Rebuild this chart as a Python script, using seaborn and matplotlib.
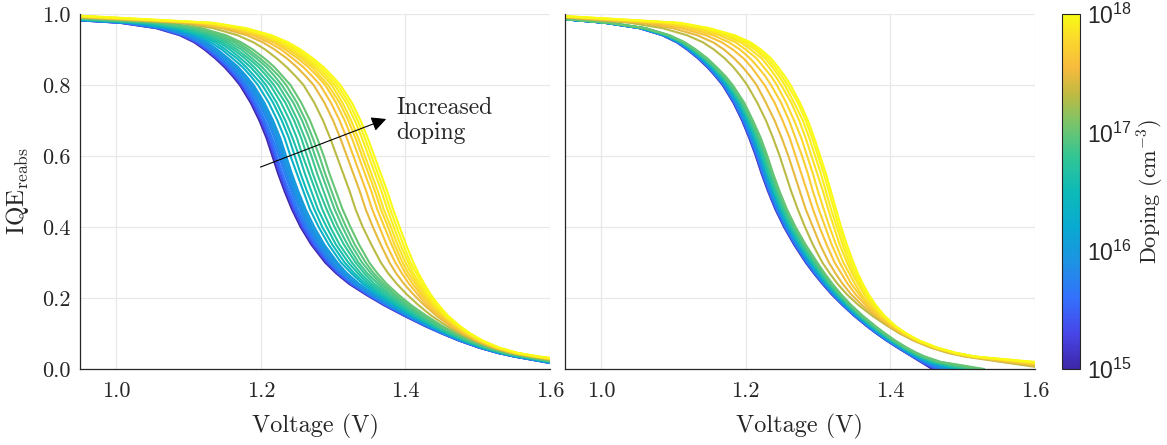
import numpy as np
import pandas as pd
import matplotlib
matplotlib.use("Agg")
import matplotlib.pyplot as plt
import seaborn as sns
from matplotlib.colors import LinearSegmentedColormap, LogNorm
from matplotlib.cm import ScalarMappable

nan = float("nan")

# doping of each curve (cm^-3)
doping = [1e15, 2e15, 3e15, 4e15, 5e15, 6e15, 7e15, 8e15, 9e15,
          1e16, 2e16, 3e16, 4e16, 5e16, 6e16, 7e16, 8e16, 9e16,
          1e17, 2e17, 3e17, 4e17, 5e17, 6e17, 7e17, 8e17, 9e17, 1e18]

# ---- left panel: voltage (V) at which each curve crosses each IQE level ----
levels_left = [0.975, 0.96, 0.94, 0.92, 0.90, 0.875, 0.85, 0.825, 0.80, 0.75, 0.70, 0.65, 0.60, 0.55, 0.50,
               0.45, 0.40, 0.35, 0.30, 0.27, 0.24, 0.21, 0.18, 0.15, 0.12, 0.10, 0.08, 0.06, 0.045, 0.035]
iqe_start_left = [0.982, 0.982, 0.982, 0.983, 0.983, 0.983, 0.983, 0.983, 0.984, 0.984, 0.984, 0.985, 0.985, 0.986,
                  0.986, 0.987, 0.987, 0.988, 0.989, 0.990, 0.991, 0.992, 0.993, 0.993, 0.994, 0.994, 0.995, 0.995]
iqe_end_left = [0.017, 0.017, 0.017, 0.018, 0.018, 0.018, 0.018, 0.018, 0.019, 0.019, 0.020, 0.020, 0.021, 0.021,
                0.022, 0.022, 0.023, 0.023, 0.024, 0.026, 0.027, 0.028, 0.029, 0.029, 0.030, 0.030, 0.031, 0.031]
volt_left = [
    [1.005, 1.055, 1.088, 1.108, 1.122, 1.137, 1.150, 1.161, 1.171, 1.186, 1.198, 1.208, 1.216, 1.224, 1.233, 1.243, 1.255, 1.270, 1.289, 1.304, 1.322, 1.345, 1.370, 1.398, 1.428, 1.450, 1.474, 1.502, 1.528, 1.550],
    [1.007, 1.057, 1.090, 1.110, 1.124, 1.139, 1.152, 1.163, 1.173, 1.188, 1.200, 1.210, 1.218, 1.226, 1.235, 1.245, 1.257, 1.272, 1.291, 1.306, 1.324, 1.346, 1.371, 1.399, 1.429, 1.451, 1.474, 1.502, 1.528, 1.551],
    [1.009, 1.059, 1.092, 1.112, 1.126, 1.141, 1.154, 1.165, 1.175, 1.190, 1.202, 1.212, 1.220, 1.228, 1.237, 1.247, 1.259, 1.274, 1.293, 1.307, 1.325, 1.348, 1.372, 1.400, 1.429, 1.451, 1.475, 1.503, 1.529, 1.551],
    [1.011, 1.061, 1.094, 1.114, 1.128, 1.143, 1.156, 1.167, 1.177, 1.192, 1.204, 1.214, 1.222, 1.230, 1.239, 1.249, 1.261, 1.276, 1.295, 1.309, 1.327, 1.349, 1.373, 1.401, 1.430, 1.452, 1.476, 1.503, 1.529, 1.552],
    [1.013, 1.063, 1.096, 1.116, 1.130, 1.145, 1.158, 1.169, 1.179, 1.194, 1.206, 1.216, 1.225, 1.233, 1.242, 1.251, 1.263, 1.278, 1.296, 1.311, 1.328, 1.350, 1.375, 1.402, 1.431, 1.452, 1.476, 1.504, 1.530, 1.552],
    [1.015, 1.064, 1.098, 1.118, 1.132, 1.147, 1.160, 1.171, 1.181, 1.197, 1.209, 1.219, 1.227, 1.235, 1.244, 1.254, 1.265, 1.280, 1.298, 1.313, 1.330, 1.352, 1.376, 1.403, 1.432, 1.453, 1.477, 1.504, 1.530, 1.553],
    [1.017, 1.066, 1.099, 1.120, 1.134, 1.149, 1.162, 1.173, 1.184, 1.199, 1.211, 1.221, 1.229, 1.237, 1.246, 1.256, 1.267, 1.282, 1.300, 1.314, 1.331, 1.353, 1.377, 1.404, 1.432, 1.454, 1.477, 1.505, 1.531, 1.553],
    [1.019, 1.068, 1.101, 1.122, 1.136, 1.151, 1.164, 1.176, 1.186, 1.201, 1.213, 1.223, 1.231, 1.239, 1.248, 1.258, 1.269, 1.284, 1.302, 1.316, 1.333, 1.355, 1.378, 1.404, 1.433, 1.454, 1.478, 1.505, 1.531, 1.554],
    [1.021, 1.070, 1.103, 1.124, 1.138, 1.153, 1.166, 1.178, 1.188, 1.203, 1.215, 1.225, 1.233, 1.241, 1.250, 1.260, 1.271, 1.286, 1.304, 1.318, 1.335, 1.356, 1.379, 1.405, 1.434, 1.455, 1.478, 1.505, 1.531, 1.554],
    [1.023, 1.072, 1.105, 1.126, 1.140, 1.155, 1.169, 1.180, 1.190, 1.205, 1.217, 1.227, 1.235, 1.243, 1.252, 1.262, 1.274, 1.288, 1.306, 1.319, 1.336, 1.357, 1.380, 1.406, 1.435, 1.455, 1.479, 1.506, 1.532, 1.555],
    [1.028, 1.078, 1.111, 1.131, 1.146, 1.161, 1.175, 1.186, 1.196, 1.211, 1.223, 1.233, 1.241, 1.250, 1.259, 1.268, 1.280, 1.294, 1.311, 1.325, 1.341, 1.361, 1.384, 1.409, 1.437, 1.457, 1.480, 1.507, 1.533, 1.556],
    [1.034, 1.083, 1.116, 1.137, 1.151, 1.167, 1.180, 1.191, 1.202, 1.217, 1.229, 1.239, 1.247, 1.255, 1.264, 1.274, 1.285, 1.299, 1.316, 1.329, 1.345, 1.365, 1.387, 1.411, 1.439, 1.459, 1.481, 1.508, 1.534, 1.558],
    [1.039, 1.088, 1.121, 1.142, 1.157, 1.172, 1.186, 1.197, 1.207, 1.222, 1.234, 1.244, 1.253, 1.261, 1.270, 1.279, 1.291, 1.304, 1.321, 1.334, 1.349, 1.368, 1.390, 1.414, 1.440, 1.460, 1.483, 1.509, 1.535, 1.559],
    [1.044, 1.093, 1.126, 1.147, 1.162, 1.178, 1.191, 1.202, 1.213, 1.228, 1.240, 1.250, 1.258, 1.267, 1.276, 1.285, 1.296, 1.309, 1.326, 1.338, 1.353, 1.372, 1.393, 1.416, 1.442, 1.462, 1.484, 1.510, 1.536, 1.561],
    [1.049, 1.098, 1.131, 1.152, 1.167, 1.183, 1.197, 1.208, 1.218, 1.234, 1.246, 1.256, 1.264, 1.272, 1.281, 1.291, 1.302, 1.315, 1.331, 1.343, 1.357, 1.376, 1.396, 1.419, 1.444, 1.464, 1.485, 1.512, 1.538, 1.562],
    [1.054, 1.103, 1.136, 1.157, 1.173, 1.188, 1.202, 1.213, 1.224, 1.239, 1.251, 1.261, 1.270, 1.278, 1.287, 1.296, 1.307, 1.320, 1.335, 1.347, 1.362, 1.379, 1.399, 1.421, 1.446, 1.465, 1.487, 1.513, 1.539, 1.563],
    [1.060, 1.108, 1.141, 1.163, 1.178, 1.194, 1.208, 1.219, 1.229, 1.245, 1.257, 1.267, 1.275, 1.284, 1.293, 1.302, 1.313, 1.325, 1.340, 1.352, 1.366, 1.383, 1.402, 1.424, 1.448, 1.467, 1.488, 1.514, 1.540, 1.565],
    [1.065, 1.113, 1.146, 1.168, 1.183, 1.199, 1.213, 1.225, 1.235, 1.250, 1.262, 1.272, 1.281, 1.289, 1.298, 1.307, 1.318, 1.330, 1.345, 1.356, 1.370, 1.386, 1.405, 1.426, 1.450, 1.468, 1.489, 1.515, 1.541, 1.566],
    [1.070, 1.118, 1.152, 1.173, 1.189, 1.205, 1.219, 1.230, 1.241, 1.256, 1.268, 1.278, 1.287, 1.295, 1.304, 1.313, 1.324, 1.336, 1.350, 1.361, 1.374, 1.390, 1.408, 1.429, 1.452, 1.470, 1.491, 1.516, 1.542, 1.568],
    [1.087, 1.134, 1.168, 1.190, 1.206, 1.222, 1.236, 1.248, 1.259, 1.274, 1.286, 1.296, 1.305, 1.314, 1.323, 1.331, 1.341, 1.353, 1.366, 1.376, 1.388, 1.402, 1.418, 1.436, 1.458, 1.475, 1.495, 1.520, 1.546, 1.572],
    [1.100, 1.146, 1.181, 1.203, 1.219, 1.236, 1.250, 1.262, 1.273, 1.288, 1.300, 1.310, 1.319, 1.328, 1.337, 1.345, 1.355, 1.366, 1.378, 1.387, 1.398, 1.411, 1.426, 1.443, 1.463, 1.479, 1.498, 1.522, 1.548, 1.576],
    [1.108, 1.154, 1.189, 1.211, 1.228, 1.244, 1.259, 1.271, 1.282, 1.297, 1.309, 1.319, 1.328, 1.337, 1.346, 1.354, 1.364, 1.374, 1.386, 1.395, 1.405, 1.417, 1.430, 1.447, 1.466, 1.482, 1.500, 1.524, 1.550, 1.578],
    [1.115, 1.161, 1.195, 1.218, 1.234, 1.251, 1.266, 1.278, 1.289, 1.304, 1.316, 1.326, 1.335, 1.344, 1.353, 1.361, 1.371, 1.381, 1.392, 1.400, 1.410, 1.421, 1.434, 1.450, 1.469, 1.484, 1.502, 1.526, 1.552, 1.580],
    [1.119, 1.165, 1.200, 1.222, 1.239, 1.256, 1.271, 1.282, 1.293, 1.309, 1.321, 1.331, 1.340, 1.349, 1.358, 1.366, 1.376, 1.385, 1.396, 1.404, 1.414, 1.424, 1.437, 1.452, 1.470, 1.485, 1.503, 1.527, 1.553, 1.581],
    [1.123, 1.169, 1.204, 1.226, 1.243, 1.260, 1.275, 1.287, 1.298, 1.313, 1.325, 1.335, 1.344, 1.353, 1.362, 1.370, 1.380, 1.389, 1.400, 1.408, 1.417, 1.427, 1.439, 1.454, 1.472, 1.486, 1.504, 1.528, 1.554, 1.582],
    [1.127, 1.173, 1.207, 1.230, 1.247, 1.264, 1.279, 1.291, 1.302, 1.318, 1.330, 1.340, 1.349, 1.358, 1.367, 1.375, 1.384, 1.393, 1.404, 1.411, 1.420, 1.430, 1.441, 1.455, 1.473, 1.488, 1.505, 1.528, 1.554, 1.583],
    [1.131, 1.176, 1.211, 1.234, 1.251, 1.268, 1.283, 1.295, 1.306, 1.322, 1.334, 1.344, 1.353, 1.362, 1.371, 1.379, 1.388, 1.397, 1.407, 1.415, 1.423, 1.432, 1.444, 1.457, 1.475, 1.489, 1.506, 1.529, 1.555, 1.584],
    [1.135, 1.180, 1.215, 1.238, 1.255, 1.272, 1.287, 1.299, 1.310, 1.326, 1.338, 1.348, 1.357, 1.366, 1.375, 1.383, 1.392, 1.401, 1.411, 1.418, 1.426, 1.435, 1.446, 1.459, 1.476, 1.490, 1.507, 1.530, 1.556, 1.585],
]

# ---- right panel ----
levels_right = [0.975, 0.96, 0.94, 0.92, 0.90, 0.875, 0.85, 0.825, 0.80, 0.75, 0.70, 0.65, 0.60, 0.55, 0.50,
                0.45, 0.40, 0.35, 0.30, 0.27, 0.24, 0.21, 0.18, 0.15, 0.12, 0.10, 0.08, 0.06, 0.045, 0.035,
                0.02, 0.0]
iqe_start_right = [0.985, 0.985, 0.985, 0.985, 0.985, 0.985, 0.985, 0.985, 0.985, 0.985, 0.986, 0.986, 0.986, 0.986,
                   0.986, 0.986, 0.986, 0.986, 0.986, 0.990, 0.991, 0.992, 0.992, 0.993, 0.993, 0.993, 0.994, 0.994]
iqe_end_right = [nan] * 19 + [0.006, 0.009, 0.012, 0.014, 0.016, 0.017, 0.018, 0.019, 0.020]
volt_right = [
    [1.005, 1.053, 1.085, 1.105, 1.119, 1.134, 1.147, 1.158, 1.168, 1.183, 1.195, 1.205, 1.214, 1.222, 1.231, 1.241, 1.253, 1.267, 1.283, 1.294, 1.306, 1.319, 1.334, 1.350, 1.368, 1.381, 1.395, 1.410, 1.422, 1.430, 1.442, 1.458],
    [1.005, 1.053, 1.085, 1.105, 1.119, 1.135, 1.148, 1.159, 1.169, 1.184, 1.196, 1.206, 1.215, 1.223, 1.232, 1.242, 1.254, 1.268, 1.284, 1.295, 1.307, 1.320, 1.334, 1.350, 1.368, 1.381, 1.395, 1.411, 1.423, 1.431, 1.443, 1.461],
    [1.006, 1.054, 1.086, 1.106, 1.120, 1.135, 1.148, 1.159, 1.169, 1.184, 1.196, 1.206, 1.215, 1.223, 1.232, 1.242, 1.254, 1.268, 1.284, 1.295, 1.307, 1.320, 1.335, 1.351, 1.369, 1.382, 1.396, 1.411, 1.423, 1.431, 1.444, 1.464],
    [1.006, 1.054, 1.086, 1.106, 1.120, 1.136, 1.149, 1.160, 1.170, 1.185, 1.197, 1.207, 1.216, 1.224, 1.233, 1.243, 1.255, 1.269, 1.285, 1.296, 1.308, 1.321, 1.335, 1.351, 1.369, 1.382, 1.396, 1.412, 1.424, 1.432, 1.445, 1.467],
    [1.006, 1.054, 1.087, 1.107, 1.121, 1.136, 1.149, 1.160, 1.170, 1.185, 1.197, 1.208, 1.217, 1.225, 1.234, 1.244, 1.256, 1.270, 1.286, 1.296, 1.308, 1.321, 1.336, 1.352, 1.370, 1.383, 1.397, 1.412, 1.424, 1.433, 1.446, 1.470],
    [1.006, 1.055, 1.087, 1.107, 1.121, 1.137, 1.150, 1.161, 1.171, 1.186, 1.198, 1.208, 1.217, 1.225, 1.234, 1.244, 1.256, 1.270, 1.286, 1.297, 1.309, 1.322, 1.336, 1.352, 1.370, 1.383, 1.397, 1.413, 1.425, 1.434, 1.448, 1.472],
    [1.007, 1.055, 1.087, 1.108, 1.122, 1.137, 1.150, 1.161, 1.171, 1.187, 1.199, 1.209, 1.218, 1.226, 1.235, 1.245, 1.257, 1.271, 1.287, 1.298, 1.309, 1.322, 1.337, 1.353, 1.371, 1.384, 1.398, 1.413, 1.426, 1.434, 1.449, 1.475],
    [1.007, 1.056, 1.088, 1.108, 1.122, 1.138, 1.151, 1.162, 1.172, 1.187, 1.199, 1.210, 1.219, 1.227, 1.236, 1.246, 1.258, 1.272, 1.288, 1.298, 1.310, 1.323, 1.337, 1.353, 1.371, 1.384, 1.398, 1.414, 1.426, 1.435, 1.450, 1.478],
    [1.007, 1.056, 1.088, 1.109, 1.123, 1.138, 1.151, 1.162, 1.172, 1.188, 1.200, 1.210, 1.219, 1.227, 1.236, 1.246, 1.258, 1.272, 1.288, 1.299, 1.310, 1.323, 1.338, 1.354, 1.372, 1.385, 1.399, 1.414, 1.427, 1.436, 1.451, 1.481],
    [1.008, 1.056, 1.089, 1.109, 1.123, 1.139, 1.152, 1.163, 1.173, 1.188, 1.200, 1.211, 1.220, 1.228, 1.237, 1.247, 1.259, 1.273, 1.289, 1.299, 1.311, 1.324, 1.338, 1.354, 1.372, 1.385, 1.399, 1.415, 1.427, 1.436, 1.452, 1.484],
    [1.008, 1.057, 1.089, 1.110, 1.124, 1.140, 1.153, 1.164, 1.174, 1.190, 1.202, 1.212, 1.221, 1.229, 1.238, 1.248, 1.260, 1.274, 1.290, 1.301, 1.312, 1.325, 1.339, 1.355, 1.373, 1.386, 1.400, 1.416, 1.428, 1.438, 1.454, 1.490],
    [1.009, 1.058, 1.090, 1.111, 1.125, 1.141, 1.154, 1.165, 1.175, 1.191, 1.203, 1.213, 1.222, 1.230, 1.239, 1.249, 1.261, 1.275, 1.291, 1.302, 1.313, 1.326, 1.340, 1.356, 1.374, 1.387, 1.401, 1.417, 1.430, 1.439, 1.456, 1.495],
    [1.009, 1.058, 1.091, 1.111, 1.126, 1.142, 1.155, 1.166, 1.176, 1.192, 1.204, 1.214, 1.223, 1.231, 1.240, 1.250, 1.262, 1.276, 1.292, 1.303, 1.314, 1.327, 1.341, 1.357, 1.375, 1.388, 1.402, 1.418, 1.431, 1.440, 1.458, 1.500],
    [1.010, 1.059, 1.092, 1.112, 1.127, 1.143, 1.156, 1.167, 1.177, 1.193, 1.205, 1.215, 1.224, 1.232, 1.241, 1.251, 1.263, 1.277, 1.293, 1.304, 1.315, 1.328, 1.342, 1.358, 1.376, 1.389, 1.403, 1.419, 1.432, 1.442, 1.460, 1.505],
    [1.010, 1.060, 1.092, 1.113, 1.128, 1.143, 1.156, 1.168, 1.178, 1.194, 1.206, 1.217, 1.226, 1.234, 1.243, 1.253, 1.265, 1.279, 1.295, 1.305, 1.316, 1.329, 1.343, 1.359, 1.377, 1.390, 1.404, 1.419, 1.433, 1.443, 1.462, 1.510],
    [1.011, 1.060, 1.093, 1.114, 1.129, 1.144, 1.157, 1.169, 1.179, 1.195, 1.207, 1.218, 1.227, 1.235, 1.244, 1.254, 1.266, 1.280, 1.296, 1.306, 1.317, 1.330, 1.344, 1.360, 1.378, 1.391, 1.405, 1.420, 1.434, 1.444, 1.464, 1.515],
    [1.011, 1.061, 1.094, 1.115, 1.129, 1.145, 1.158, 1.170, 1.180, 1.196, 1.208, 1.219, 1.228, 1.236, 1.245, 1.255, 1.267, 1.281, 1.297, 1.307, 1.318, 1.331, 1.345, 1.360, 1.378, 1.391, 1.405, 1.421, 1.435, 1.446, 1.466, 1.520],
    [1.012, 1.061, 1.094, 1.115, 1.130, 1.146, 1.159, 1.171, 1.181, 1.197, 1.209, 1.220, 1.229, 1.237, 1.246, 1.256, 1.268, 1.282, 1.298, 1.308, 1.319, 1.332, 1.345, 1.361, 1.379, 1.392, 1.406, 1.422, 1.436, 1.447, 1.468, 1.525],
    [1.012, 1.062, 1.095, 1.116, 1.131, 1.147, 1.160, 1.172, 1.182, 1.198, 1.210, 1.221, 1.230, 1.238, 1.247, 1.257, 1.269, 1.283, 1.299, 1.309, 1.320, 1.332, 1.346, 1.362, 1.380, 1.393, 1.407, 1.423, 1.437, 1.448, 1.470, 1.530],
    [1.040, 1.085, 1.119, 1.141, 1.156, 1.171, 1.183, 1.193, 1.202, 1.216, 1.228, 1.238, 1.247, 1.255, 1.263, 1.272, 1.282, 1.293, 1.306, 1.316, 1.327, 1.340, 1.356, 1.375, 1.397, 1.413, 1.432, 1.456, 1.480, 1.503, nan, nan],
    [1.055, 1.099, 1.133, 1.155, 1.170, 1.184, 1.196, 1.206, 1.215, 1.228, 1.240, 1.250, 1.259, 1.267, 1.275, 1.283, 1.293, 1.303, 1.315, 1.324, 1.334, 1.346, 1.361, 1.379, 1.399, 1.415, 1.434, 1.458, 1.483, 1.506, nan, nan],
    [1.068, 1.111, 1.145, 1.167, 1.182, 1.197, 1.208, 1.217, 1.226, 1.240, 1.251, 1.261, 1.269, 1.277, 1.285, 1.293, 1.302, 1.312, 1.323, 1.332, 1.341, 1.352, 1.366, 1.382, 1.401, 1.417, 1.435, 1.460, 1.485, 1.509, nan, nan],
    [1.079, 1.121, 1.155, 1.177, 1.192, 1.206, 1.217, 1.227, 1.235, 1.249, 1.260, 1.269, 1.278, 1.286, 1.293, 1.301, 1.310, 1.319, 1.330, 1.338, 1.346, 1.357, 1.369, 1.384, 1.403, 1.418, 1.436, 1.461, 1.487, 1.511, nan, nan],
    [1.088, 1.129, 1.164, 1.186, 1.200, 1.215, 1.225, 1.235, 1.243, 1.256, 1.267, 1.277, 1.285, 1.293, 1.300, 1.308, 1.316, 1.325, 1.335, 1.343, 1.351, 1.360, 1.372, 1.387, 1.405, 1.419, 1.437, 1.462, 1.488, 1.513, nan, nan],
    [1.095, 1.136, 1.171, 1.193, 1.207, 1.222, 1.232, 1.241, 1.249, 1.263, 1.274, 1.283, 1.291, 1.299, 1.307, 1.314, 1.322, 1.330, 1.340, 1.347, 1.355, 1.364, 1.375, 1.388, 1.406, 1.420, 1.438, 1.463, 1.490, 1.515, nan, nan],
    [1.101, 1.142, 1.176, 1.198, 1.213, 1.227, 1.237, 1.246, 1.254, 1.267, 1.279, 1.288, 1.296, 1.304, 1.311, 1.318, 1.326, 1.334, 1.343, 1.350, 1.358, 1.366, 1.377, 1.390, 1.407, 1.421, 1.439, 1.464, 1.490, 1.516, nan, nan],
    [1.106, 1.146, 1.181, 1.203, 1.217, 1.231, 1.241, 1.250, 1.258, 1.272, 1.283, 1.292, 1.300, 1.308, 1.315, 1.322, 1.329, 1.337, 1.346, 1.353, 1.360, 1.368, 1.379, 1.391, 1.407, 1.422, 1.440, 1.465, 1.491, 1.517, nan, nan],
    [1.110, 1.150, 1.185, 1.207, 1.221, 1.235, 1.245, 1.254, 1.262, 1.275, 1.286, 1.295, 1.303, 1.311, 1.318, 1.325, 1.332, 1.340, 1.349, 1.355, 1.362, 1.370, 1.380, 1.392, 1.408, 1.422, 1.440, 1.465, 1.492, 1.518, nan, nan],
]

v_min, v_max = 0.95, 1.6


def to_frame(levels, volts, start, end):
    rows = []
    for d, vs, a, b in zip(doping, volts, start, end):
        rows.append((d, v_min, a))
        for lv, v in zip(levels, vs):
            if not np.isnan(v):
                rows.append((d, v, lv))
        if not np.isnan(b):
            rows.append((d, v_max, b))
    return pd.DataFrame(rows, columns=["doping", "V", "IQE"])


df_left = to_frame(levels_left, volt_left, iqe_start_left, iqe_end_left)
df_right = to_frame(levels_right, volt_right, iqe_start_right, iqe_end_right)

# parula-like colormap
parula = LinearSegmentedColormap.from_list("parula", [
    (0.000, (0.2422, 0.1504, 0.6603)),
    (0.100, (0.2783, 0.2750, 0.9130)),
    (0.200, (0.2000, 0.4450, 0.9900)),
    (0.300, (0.1150, 0.5750, 0.8900)),
    (0.400, (0.0350, 0.6650, 0.8200)),
    (0.500, (0.0500, 0.7300, 0.7200)),
    (0.600, (0.2000, 0.7750, 0.5800)),
    (0.700, (0.5000, 0.7700, 0.4000)),
    (0.775, (0.7500, 0.7300, 0.2600)),
    (0.850, (0.9700, 0.7300, 0.2400)),
    (0.925, (0.9800, 0.8400, 0.1800)),
    (1.000, (0.9769, 0.9839, 0.0805)),
])
norm = LogNorm(1e15, 1e18)

sns.set_style("white")
plt.rcParams["font.family"] = ["cmr10", "DejaVu Serif"]
plt.rcParams["mathtext.fontset"] = "cm"
plt.rcParams["mathtext.rm"] = "Liberation Sans"
plt.rcParams["axes.formatter.use_mathtext"] = True

fig = plt.figure(figsize=(11.67, 4.45), dpi=100)
ax1 = fig.add_axes([0.0686, 0.1708, 0.4027, 0.7978])
ax2 = fig.add_axes([0.4841, 0.1708, 0.4027, 0.7978])
cax = fig.add_axes([0.9100, 0.1708, 0.0154, 0.7978])

for ax, df in [(ax1, df_left), (ax2, df_right)]:
    sns.lineplot(data=df, x="V", y="IQE", hue="doping", palette=parula, hue_norm=norm,
                 estimator=None, sort=True, legend=False, linewidth=1.5, ax=ax)
    ax.set_xlim(v_min, v_max)
    ax.set_ylim(0, 1)
    ax.set_xticks([1.0, 1.2, 1.4, 1.6])
    ax.set_xticklabels(["1.0", "1.2", "1.4", "1.6"])
    ax.set_yticks([0, 0.2, 0.4, 0.6, 0.8, 1.0])
    ax.grid(True, color="#e8e8e8", linewidth=0.9)
    ax.set_axisbelow(True)
    for s in ["top", "right"]:
        ax.spines[s].set_visible(False)
    for s in ["left", "bottom"]:
        ax.spines[s].set_color("#262626")
        ax.spines[s].set_linewidth(0.9)
    ax.tick_params(direction="in", length=5, width=0.8, labelsize=16, colors="#262626", pad=9)
    ax.set_xlabel("Voltage (V)", fontsize=17.5, labelpad=9)
    ax.set_ylabel("")

ax1.set_yticklabels(["0.0", "0.2", "0.4", "0.6", "0.8", "1.0"])
ax1.tick_params(axis="y", pad=7)
ax2.set_yticklabels([])
ax1.set_ylabel(r"IQE$_{\mathrm{reabs}}$", fontsize=18, labelpad=8)

ax1.annotate("", xy=(1.377, 0.707), xytext=(1.196, 0.566),
             arrowprops=dict(arrowstyle="-|>", color="black", lw=0.8, mutation_scale=22))
ax1.text(1.387, 0.70, "Increased\ndoping", fontsize=17, ha="left", va="center", linespacing=1.15)

cb = fig.colorbar(ScalarMappable(norm=norm, cmap=parula), cax=cax)
cb.outline.set_linewidth(0.8)
cb.set_ticks([1e15, 1e16, 1e17, 1e18],
             labels=[r"$\mathrm{10^{15}}$", r"$\mathrm{10^{16}}$",
                     r"$\mathrm{10^{17}}$", r"$\mathrm{10^{18}}$"])
for t in cax.get_yticklabels():
    t.set_fontfamily("Liberation Sans")
    t.set_math_fontfamily("custom")
    t.set_fontsize(16.5)
    t.set_color("#262626")
cax.tick_params(which="both", direction="in", right=True, left=False, width=0.6, pad=5)
cax.tick_params(which="major", length=6)
cax.tick_params(which="minor", length=3.5)
cb.set_label(r"Doping (cm$^{-3}$)", fontsize=16, labelpad=3, color="#262626")

fig.savefig("out.png", dpi=100)
